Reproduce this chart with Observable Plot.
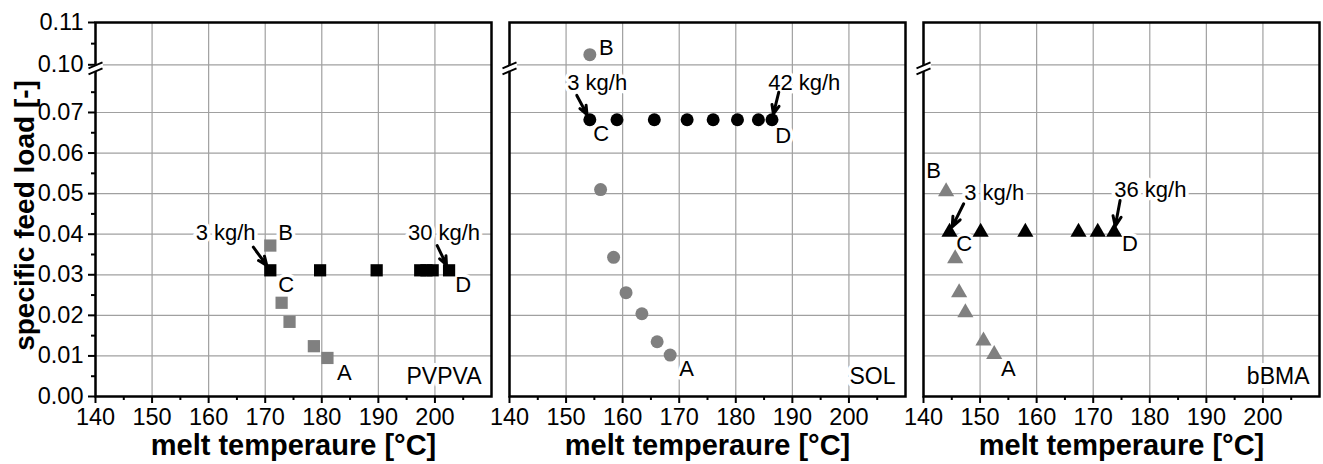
<!DOCTYPE html>
<html>
<head>
<meta charset="utf-8">
<script src="https://cdn.jsdelivr.net/npm/d3@7"></script>
<script src="https://cdn.jsdelivr.net/npm/@observablehq/plot@0.6"></script>
<style>
  html, body { margin: 0; padding: 0; background: #fff; }
</style>
</head>
<body>
<div id="chart"></div>
<script>
// ---------------- data ----------------
const panels = ["PVPVA", "SOL", "bBMA"];
const panelSymbols = ["square", "circle", "triangle"];

// grey series (A -> B)
const pvpvaGreyT    = [181.0, 178.6, 174.3, 172.9, 170.9];
const pvpvaGreyLoad = [0.0095, 0.0124, 0.0184, 0.0231, 0.0372];
const solGreyT      = [168.4, 166.1, 163.4, 160.6, 158.4, 156.1, 154.2];
const solGreyLoad   = [0.0102, 0.0135, 0.0204, 0.0256, 0.0343, 0.0510, 0.1024];
const bbmaGreyT     = [152.5, 150.6, 147.4, 146.3, 145.6, 144.0];
const bbmaGreyLoad  = [0.0104, 0.0137, 0.0207, 0.0256, 0.0340, 0.0505];

// black series (C -> D)
const pvpvaBlackT    = [170.9, 179.7, 189.7, 197.4, 198.5, 199.6, 202.5];
const pvpvaBlackLoad = [0.0311, 0.0311, 0.0311, 0.0311, 0.0311, 0.0311, 0.0311];
const solBlackT      = [154.2, 159.0, 165.6, 171.4, 176.0, 180.3, 184.0, 186.4];
const solBlackLoad   = [0.0682, 0.0682, 0.0682, 0.0682, 0.0682, 0.0682, 0.0682, 0.0682];
const bbmaBlackT     = [144.6, 150.1, 158.0, 167.4, 170.8, 173.7];
const bbmaBlackLoad  = [0.0405, 0.0405, 0.0405, 0.0405, 0.0405, 0.0405];

// annotation texts (data units)
const labelPanel = ["PVPVA","PVPVA","PVPVA","PVPVA","PVPVA","PVPVA",
                    "SOL","SOL","SOL","SOL","SOL","SOL",
                    "bBMA","bBMA","bBMA","bBMA","bBMA","bBMA"];
const labelText  = ["3 kg/h","B","C","30 kg/h","D","A",
                    "3 kg/h","B","C","42 kg/h","D","A",
                    "3 kg/h","B","C","36 kg/h","D","A"];
const labelT     = [163.0, 173.6, 173.7, 201.6, 205.0, 184.0,
                    155.5, 157.1, 156.2, 192.1, 188.4, 171.3,
                    152.5, 141.8, 147.2, 180.1, 176.5, 155.0];
const labelLoad  = [0.0402, 0.0402, 0.0274, 0.0402, 0.0274, 0.0059,
                    0.0772, 0.1040, 0.0648, 0.0772, 0.0643, 0.0067,
                    0.0501, 0.0557, 0.0377, 0.0508, 0.0377, 0.0069];

// arrows: start (data units), end at C (first black point) or D (last black point)
const arrowPanel    = ["PVPVA","PVPVA","SOL","SOL","bBMA","bBMA"];
const arrowTarget   = ["C","D","C","D","C","D"];
const arrowFromT    = [167.9, 200.4, 151.9, 187.6, 147.1, 174.75];
const arrowFromLoad = [0.0368, 0.0372, 0.0742, 0.0750, 0.0475, 0.0483];

// axes
const xMajor = [140, 150, 160, 170, 180, 190, 200];
const xMinor = [145, 155, 165, 175, 185, 195, 205];
const yMajor = [0, 0.01, 0.02, 0.03, 0.04, 0.05, 0.06, 0.07, 0.10, 0.11];
const yMinor = [0.005, 0.015, 0.025, 0.035, 0.045, 0.055, 0.065, 0.075, 0.105];
const yGrid  = [0.01, 0.02, 0.03, 0.04, 0.05, 0.06, 0.07, 0.10];
const yBreak = [0.08, 0.10];

// ---------------- build tables ----------------
const greyT = [pvpvaGreyT, solGreyT, bbmaGreyT];
const greyL = [pvpvaGreyLoad, solGreyLoad, bbmaGreyLoad];
const blackT = [pvpvaBlackT, solBlackT, bbmaBlackT];
const blackL = [pvpvaBlackLoad, solBlackLoad, bbmaBlackLoad];

const points = [];
panels.forEach((p, i) => {
  greyT[i].forEach((t, j) => points.push({panel: p, series: "grey", T: t, load: greyL[i][j]}));
  blackT[i].forEach((t, j) => points.push({panel: p, series: "black", T: t, load: blackL[i][j]}));
});
const labels = labelText.map((t, i) => ({panel: labelPanel[i], text: t, T: labelT[i], load: labelLoad[i]}));
const arrows = arrowPanel.map((p, i) => {
  const k = panels.indexOf(p);
  const idx = arrowTarget[i] === "C" ? 0 : blackT[k].length - 1;
  return {panel: p, T1: arrowFromT[i], L1: arrowFromLoad[i], T2: blackT[k][idx], L2: blackL[k][idx]};
});

// ---------------- styles ----------------
const FONT = "'Liberation Sans', Arial, Helvetica, sans-serif";
const GREY = "#808080";
const GRID = "#a0a0a0";
const sizeR = {square: 6.9, circle: 6.5, triangle: 6.0};
const yFmt = d3.format(".2f");

const breakFill = {draw(ctx) { ctx.moveTo(-7, 0); ctx.lineTo(7, -6); ctx.lineTo(7, 0); ctx.lineTo(-7, 6); ctx.closePath(); }};
const breakLines = {draw(ctx) { ctx.moveTo(-7, 0); ctx.lineTo(7, -6); ctx.moveTo(-7, 6); ctx.lineTo(7, 0); }};

const dotMarks = [];
panels.forEach((p, i) => {
  const sym = panelSymbols[i];
  ["grey", "black"].forEach(s => {
    dotMarks.push(Plot.dot(points.filter(d => d.panel === p && d.series === s), {
      fx: "panel", x: "T", y: "load", symbol: () => sym, r: sizeR[sym],
      fill: s === "grey" ? GREY : "black", stroke: "none"
    }));
  });
});

const chart = Plot.plot({
  width: 1323,
  height: 464,
  marginLeft: 95,
  marginRight: 3,
  marginTop: 22,
  marginBottom: 68,
  style: {fontFamily: FONT, fontSize: "22px", background: "white", color: "black", overflow: "visible"},
  fx: {domain: panels, paddingInner: 0.043, paddingOuter: 0, axis: null, label: null},
  x: {type: "linear", domain: [140, 210], label: null},
  y: {type: "linear", domain: [0, yBreak[0], yBreak[1], 0.11], range: [396, 71.4, 64.3, 22], label: null},
  symbol: {domain: panelSymbols, range: panelSymbols},
  marks: [
    Plot.gridX({ticks: xMajor, stroke: GRID, strokeOpacity: 1, strokeWidth: 1.2}),
    Plot.gridY({ticks: yGrid, stroke: GRID, strokeOpacity: 1, strokeWidth: 1.2}),
    // annotation labels with white halo
    Plot.text(labels, {fx: "panel", x: "T", y: "load", text: "text", fill: "black",
      stroke: "white", strokeWidth: 7, paintOrder: "stroke", fontSize: 22}),
    Plot.text(panels, {fx: d => d, text: d => d, frameAnchor: "bottom-right", textAnchor: "end",
      lineAnchor: "middle", dx: -10, dy: -20, fill: "black", stroke: "white", strokeWidth: 8,
      paintOrder: "stroke", fontSize: 23}),
    Plot.arrow(arrows, {fx: "panel", x1: "T1", y1: "L1", x2: "T2", y2: "L2", stroke: "black",
      strokeWidth: 3, headLength: 9, headAngle: 45, insetEnd: 6}),
    ...dotMarks,
    Plot.frame({stroke: "black", strokeWidth: 2.5}),
    // ticks
    Plot.axisX({ticks: xMajor, tickSize: 7, strokeWidth: 2, tickFormat: () => "", label: null}),
    Plot.axisX({ticks: xMinor, tickSize: 4, strokeWidth: 2, tickFormat: () => "", label: null}),
    Plot.axisY({ticks: yMajor, tickSize: 7, strokeWidth: 2, tickFormat: () => "", label: null}),
    Plot.axisY({ticks: yMinor, tickSize: 4, strokeWidth: 2, tickFormat: () => "", label: null}),
    // tick labels
    Plot.text(xMajor, {x: d => d, text: d => String(d), frameAnchor: "bottom", dy: 21,
      lineAnchor: "middle", textAnchor: "middle", fontSize: 23.5, fill: "black"}),
    Plot.text(yMajor, {fx: () => panels[0], y: d => d, text: d => yFmt(d), frameAnchor: "left", dx: -12,
      lineAnchor: "middle", textAnchor: "end", fontSize: 23.5, fill: "black"}),
    // axis break marks on the left edge of each panel
    Plot.dot([(yBreak[0] + yBreak[1]) / 2], {y: d => d, frameAnchor: "left", symbol: breakFill, fill: "white", stroke: "white", strokeWidth: 1}),
    Plot.dot([(yBreak[0] + yBreak[1]) / 2], {y: d => d, frameAnchor: "left", symbol: breakLines, fill: "none", stroke: "black", strokeWidth: 2}),
    // axis titles
    Plot.text(["melt temperaure [°C]"], {text: d => d, frameAnchor: "bottom", dy: 49, lineAnchor: "middle",
      textAnchor: "middle", fontWeight: "bold", fontSize: 29, fill: "black"}),
    Plot.text([panels[0]], {fx: d => d, text: () => "specific feed load [-]", frameAnchor: "left", rotate: -90,
      dx: -70, dy: 6, lineAnchor: "middle", textAnchor: "middle", fontWeight: "bold", fontSize: 28, fill: "black"})
  ]
});
document.getElementById("chart").appendChild(chart);
</script>
</body>
</html>
